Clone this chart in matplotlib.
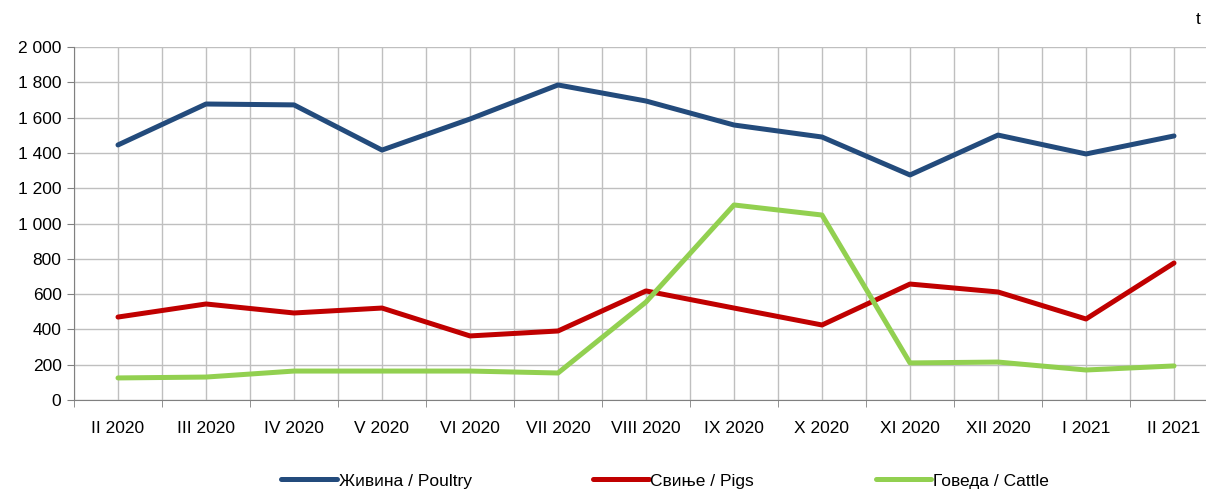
import numpy as np
import matplotlib.pyplot as plt
from matplotlib.ticker import FuncFormatter, MultipleLocator

plt.rcParams['font.family'] = ['Liberation Sans', 'DejaVu Sans']

months = ["II 2020", "III 2020", "IV 2020", "V 2020", "VI 2020", "VII 2020", "VIII 2020",
          "IX 2020", "X 2020", "XI 2020", "XII 2020", "I 2021", "II 2021"]
poultry = [1445, 1677, 1672, 1416, 1592, 1785, 1694, 1558, 1490, 1275, 1501, 1394, 1496]
pigs = [470, 544, 493, 521, 363, 391, 618, 521, 425, 657, 612, 459, 776]
cattle = [125, 130, 164, 164, 164, 153, 555, 1105, 1048, 210, 215, 170, 193]

labels = ["Живина / Poultry", "Свиње / Pigs", "Говеда / Cattle"]
colors = ["#234B7C", "#C00000", "#92D050"]

fig = plt.figure(figsize=(12.06, 4.93), dpi=100)
ax = fig.add_axes([74 / 1206, 1 - 400 / 493, 1144 / 1206, 353 / 493])

x = np.arange(len(months))
for vals, lab, col in zip([poultry, pigs, cattle], labels, colors):
    ax.plot(x, vals, color=col, linewidth=3.6, label=lab, solid_capstyle="round",
            solid_joinstyle="round", zorder=3)

ax.set_xlim(-0.5, len(months) - 0.5)
ax.set_ylim(0, 2000)
ax.yaxis.set_major_locator(MultipleLocator(200))
ax.yaxis.set_major_formatter(FuncFormatter(lambda v, p: f"{int(v):,}".replace(",", " ")))

# gridlines at category centers and boundaries
for xv in np.arange(-0.5, len(months), 0.5):
    ax.axvline(xv, color="#BFBFBF", linewidth=1, zorder=1)
ax.grid(axis="y", color="#BFBFBF", linewidth=1, zorder=1)

ax.set_xticks(x)
ax.set_xticklabels(months)
ax.set_xticks(np.arange(-0.5, len(months), 1), minor=True)
ax.tick_params(axis="x", which="major", length=0, pad=15, labelsize=12.5)
ax.tick_params(axis="x", which="minor", length=5, color="#808080", direction="out")
ax.tick_params(axis="y", length=5, color="#808080", labelsize=12.5, pad=4)

for side in ["top", "right"]:
    ax.spines[side].set_visible(False)
for side in ["left", "bottom"]:
    ax.spines[side].set_color("#808080")

fig.text(1198 / 1206, 1 - 20 / 493, "t", fontsize=12.5, ha="center", va="center")

fig.legend(loc="center", bbox_to_anchor=(665 / 1206, 1 - 481 / 493), ncol=3, frameon=False,
           fontsize=12.5, handlelength=3.2, handletextpad=0.1, columnspacing=7.0)

fig.savefig("out.png", dpi=100)
